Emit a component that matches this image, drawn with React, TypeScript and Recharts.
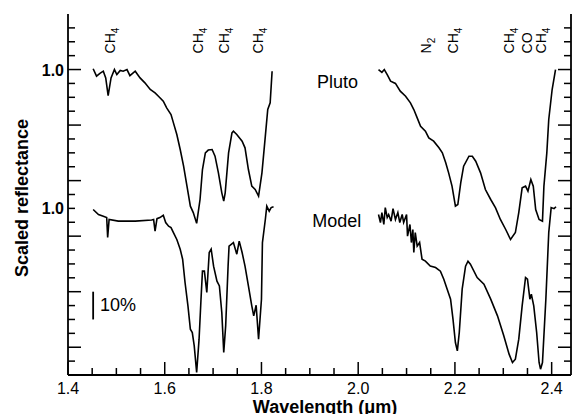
import React from "react";
import {
  LineChart,
  Line,
  XAxis,
  YAxis,
  ReferenceDot,
  ReferenceLine,
} from "recharts";

// [wavelength (um), scaled reflectance]
const plutoShort = [
  [1.452, 1.003], [1.459, 0.976], [1.466, 0.986], [1.473, 0.994], [1.478, 0.97],
  [1.483, 0.906], [1.489, 0.97], [1.496, 1.0], [1.501, 0.982], [1.508, 0.997],
  [1.514, 0.994], [1.522, 1.0], [1.528, 0.978], [1.539, 0.994], [1.549, 0.97],
  [1.559, 0.952], [1.57, 0.928], [1.58, 0.916], [1.587, 0.904], [1.597, 0.886],
  [1.604, 0.862], [1.613, 0.838], [1.618, 0.808], [1.625, 0.766], [1.632, 0.712],
  [1.639, 0.652], [1.646, 0.58], [1.653, 0.508], [1.659, 0.485], [1.666, 0.446],
  [1.673, 0.532], [1.678, 0.64], [1.684, 0.7], [1.69, 0.71], [1.698, 0.712],
  [1.704, 0.688], [1.711, 0.628], [1.718, 0.556], [1.722, 0.526], [1.725, 0.556],
  [1.732, 0.7], [1.739, 0.772], [1.742, 0.778], [1.749, 0.766], [1.76, 0.742],
  [1.766, 0.718], [1.773, 0.64], [1.78, 0.58], [1.787, 0.568], [1.794, 0.544],
  [1.801, 0.628], [1.808, 0.76], [1.813, 0.856], [1.818, 0.88], [1.822, 0.994],
];

const plutoLong = [
  [2.042, 1.0], [2.049, 0.99], [2.054, 1.0], [2.06, 0.982], [2.067, 0.958],
  [2.077, 0.95], [2.087, 0.922], [2.098, 0.904], [2.108, 0.88], [2.115, 0.856],
  [2.122, 0.826], [2.129, 0.796], [2.139, 0.778], [2.146, 0.754], [2.156, 0.742],
  [2.167, 0.718], [2.174, 0.7], [2.181, 0.664], [2.187, 0.628], [2.194, 0.58],
  [2.201, 0.508], [2.206, 0.514], [2.212, 0.592], [2.218, 0.652], [2.229, 0.688],
  [2.236, 0.688], [2.243, 0.67], [2.253, 0.628], [2.263, 0.568], [2.274, 0.532],
  [2.284, 0.502], [2.294, 0.46], [2.305, 0.424], [2.315, 0.388], [2.325, 0.413],
  [2.332, 0.485], [2.339, 0.574], [2.346, 0.58], [2.351, 0.562], [2.357, 0.604],
  [2.362, 0.58], [2.367, 0.496], [2.374, 0.46], [2.381, 0.454], [2.384, 0.58],
  [2.39, 0.7], [2.394, 0.82], [2.401, 0.928], [2.408, 1.0],
];

const modelShort = [
  [1.452, 0.996], [1.463, 0.978], [1.473, 0.972], [1.48, 0.967], [1.482, 0.895],
  [1.485, 0.96], [1.504, 0.954], [1.539, 0.954], [1.573, 0.958], [1.577, 0.96],
  [1.58, 0.918], [1.584, 0.963], [1.59, 0.967], [1.597, 0.975], [1.602, 0.949],
  [1.608, 0.936], [1.613, 0.931], [1.618, 0.913], [1.625, 0.888], [1.632, 0.853],
  [1.637, 0.817], [1.642, 0.733], [1.648, 0.649], [1.653, 0.565], [1.657, 0.553],
  [1.661, 0.505], [1.666, 0.409], [1.671, 0.529], [1.675, 0.673], [1.678, 0.774],
  [1.682, 0.774], [1.687, 0.697], [1.692, 0.841], [1.696, 0.853], [1.701, 0.792],
  [1.708, 0.738], [1.713, 0.721], [1.718, 0.625], [1.722, 0.481], [1.726, 0.577],
  [1.731, 0.792], [1.733, 0.864], [1.742, 0.877], [1.749, 0.835], [1.754, 0.882],
  [1.76, 0.841], [1.766, 0.792], [1.773, 0.721], [1.78, 0.649], [1.784, 0.613],
  [1.789, 0.651], [1.794, 0.529], [1.8, 0.673], [1.802, 0.877], [1.808, 0.96],
  [1.811, 1.008], [1.816, 0.99], [1.82, 1.003], [1.825, 1.006],
];

const modelLong = [
  [2.042, 0.978], [2.046, 0.949], [2.049, 0.985], [2.053, 0.942], [2.056, 1.003],
  [2.06, 0.967], [2.063, 0.978], [2.068, 0.954], [2.072, 0.999], [2.077, 0.96],
  [2.082, 0.985], [2.086, 0.949], [2.091, 0.978], [2.094, 0.949], [2.1, 0.978],
  [2.102, 0.9], [2.107, 0.942], [2.11, 0.877], [2.113, 0.924], [2.115, 0.841],
  [2.118, 0.913], [2.122, 0.864], [2.127, 0.877], [2.132, 0.817], [2.139, 0.81],
  [2.149, 0.792], [2.16, 0.787], [2.17, 0.774], [2.177, 0.745], [2.184, 0.709],
  [2.191, 0.673], [2.196, 0.601], [2.201, 0.517], [2.205, 0.487], [2.209, 0.553],
  [2.215, 0.709], [2.222, 0.792], [2.227, 0.81], [2.232, 0.799], [2.246, 0.751],
  [2.26, 0.727], [2.274, 0.673], [2.288, 0.613], [2.301, 0.541], [2.312, 0.475],
  [2.319, 0.445], [2.325, 0.457], [2.332, 0.529], [2.339, 0.649], [2.346, 0.751],
  [2.35, 0.745], [2.355, 0.673], [2.358, 0.691], [2.363, 0.649], [2.369, 0.553],
  [2.374, 0.445], [2.377, 0.421], [2.381, 0.445], [2.388, 0.673], [2.394, 0.913],
  [2.399, 1.003], [2.405, 0.999], [2.409, 1.006],
];

// model spectrum is drawn 0.5 below Pluto
const modelOffset = 0.5;

const species = [
  ["CH", "4", 1.487], ["CH", "4", 1.669], ["CH", "4", 1.723], ["CH", "4", 1.793],
  ["N", "2", 2.141], ["CH", "4", 2.197], ["CH", "4", 2.311], ["CO", "", 2.35],
  ["CH", "4", 2.379],
];

const xTicks = [
  1.4, 1.45, 1.5, 1.55, 1.6, 1.65, 1.7, 1.75, 1.8, 1.85, 1.9, 1.95, 2.0,
  2.05, 2.1, 2.15, 2.2, 2.25, 2.3, 2.35, 2.4,
];
const yTicks = [
  -0.05, 0, 0.05, 0.1, 0.15, 0.2, 0.25, 0.3, 0.35, 0.4, 0.45, 0.5, 0.55,
  0.6, 0.65, 0.7, 0.75, 0.8, 0.85, 0.9, 0.95, 1.0, 1.05, 1.1, 1.15,
];
const yLabelTicks = [1.0, 0.5];

const font = "'Liberation Sans', Arial, Helvetica, sans-serif";

const toRows = (pts: number[][], off = 0) =>
  pts.map(([w, r]) => ({ w, r: +(r - off).toFixed(3) }));

const isMajor = (v: number, step: number) =>
  Math.abs(v / step - Math.round(v / step)) < 1e-6;

const BottomTick = (p: any) => {
  const v = p.payload.value;
  const major = isMajor(v, 0.2);
  return (
    <g>
      <line x1={p.x} x2={p.x} y1={p.y} y2={p.y - (major ? 13 : 7)} stroke="#000" strokeWidth={1.5} />
      {major && (
        <text x={p.x} y={p.y + 19} textAnchor="middle" fontSize={16} fontFamily={font} fill="#000">
          {v.toFixed(1)}
        </text>
      )}
    </g>
  );
};

const TopTick = (p: any) => {
  const major = isMajor(p.payload.value, 0.2);
  return (
    <line x1={p.x} x2={p.x} y1={p.y} y2={p.y + (major ? 13 : 7)} stroke="#000" strokeWidth={1.5} />
  );
};

const LeftTick = (p: any) => {
  const v = p.payload.value;
  const major = isMajor(v, 0.2);
  const labeled = yLabelTicks.some((t) => Math.abs(t - v) < 1e-6);
  return (
    <g>
      <line x1={p.x} x2={p.x + (major ? 13 : 7)} y1={p.y} y2={p.y} stroke="#000" strokeWidth={1.5} />
      {labeled && (
        <text x={p.x - 4} y={p.y + 6} textAnchor="end" fontSize={16} fontWeight="bold" fontFamily={font} fill="#000">
          1.0
        </text>
      )}
    </g>
  );
};

const RightTick = (p: any) => {
  const major = isMajor(p.payload.value, 0.2);
  return (
    <line x1={p.x} x2={p.x - (major ? 13 : 7)} y1={p.y} y2={p.y} stroke="#000" strokeWidth={1.5} />
  );
};

const SpeciesLabel = (main: string, sub: string) => (p: any) => (
  <text
    transform={`translate(${p.cx + 5},${p.cy}) rotate(-90)`}
    fontSize={14}
    fontFamily={font}
    fill="#000"
  >
    {main}
    {sub && (
      <tspan dy={4} fontSize={10}>
        {sub}
      </tspan>
    )}
  </text>
);

const TextLabel = (txt: string, size: number) => (p: any) => (
  <text x={p.cx} y={p.cy} fontSize={size} fontFamily={font} fill="#000">
    {txt}
  </text>
);

export default function App() {
  const line = { xAxisId: "b", yAxisId: "l", dataKey: "r", type: "linear" as const, stroke: "#000", strokeWidth: 1.6, dot: false, isAnimationActive: false };
  return (
    <div style={{ position: "absolute", left: 0, top: 0, width: 572, height: 414, background: "#fff" }}>
      <LineChart width={572} height={414} margin={{ top: 14, right: 0, bottom: 0, left: 0 }}>
        <XAxis
          xAxisId="b"
          dataKey="w"
          type="number"
          domain={[1.4, 2.44]}
          allowDataOverflow
          ticks={xTicks}
          interval={0}
          tickSize={0}
          tickMargin={0}
          tick={BottomTick}
          height={39}
          axisLine={{ stroke: "#000", strokeWidth: 1.8 }}
        />
        <XAxis
          xAxisId="t"
          orientation="top"
          type="number"
          domain={[1.4, 2.44]}
          allowDataOverflow
          ticks={xTicks}
          interval={0}
          tickSize={0}
          tickMargin={0}
          tick={TopTick}
          height={0}
          axisLine={{ stroke: "#000", strokeWidth: 1.8 }}
        />
        <YAxis
          yAxisId="l"
          type="number"
          domain={[-0.1, 1.2]}
          allowDataOverflow
          ticks={yTicks}
          interval={0}
          tickSize={0}
          tickMargin={0}
          tick={LeftTick}
          width={68}
          axisLine={{ stroke: "#000", strokeWidth: 1.8 }}
        />
        <YAxis
          yAxisId="r"
          orientation="right"
          type="number"
          domain={[-0.1, 1.2]}
          allowDataOverflow
          ticks={yTicks}
          interval={0}
          tickSize={0}
          tickMargin={0}
          tick={RightTick}
          width={1}
          axisLine={{ stroke: "#000", strokeWidth: 1.8 }}
        />
        <Line {...line} data={toRows(plutoShort)} />
        <Line {...line} data={toRows(plutoLong)} />
        <Line {...line} data={toRows(modelShort, modelOffset)} />
        <Line {...line} data={toRows(modelLong, modelOffset)} />
        {species.map(([m, s, w], i) => (
          <ReferenceDot
            key={i}
            xAxisId="b"
            yAxisId="l"
            x={w as number}
            y={1.058}
            r={0}
            shape={SpeciesLabel(m as string, s as string)}
          />
        ))}
        <ReferenceDot xAxisId="b" yAxisId="l" x={1.915} y={0.935} r={0} shape={TextLabel("Pluto", 18)} />
        <ReferenceDot xAxisId="b" yAxisId="l" x={1.905} y={0.432} r={0} shape={TextLabel("Model", 18)} />
        <ReferenceDot xAxisId="b" yAxisId="l" x={1.466} y={0.129} r={0} shape={TextLabel("10%", 18)} />
        <ReferenceLine
          xAxisId="b"
          yAxisId="l"
          segment={[{ x: 1.452, y: 0.2 }, { x: 1.452, y: 0.1 }]}
          stroke="#000"
          strokeWidth={1.8}
        />
      </LineChart>
      <div
        style={{
          position: "absolute",
          left: 0,
          top: 0,
          width: 572,
          height: 414,
          pointerEvents: "none",
        }}
      >
        <svg width={572} height={414}>
          <text x={325} y={413} textAnchor="middle" fontSize={18} fontWeight="bold" fontFamily={font}>
            Wavelength (μm)
          </text>
          <text
            transform="translate(28,198) rotate(-90)"
            textAnchor="middle"
            fontSize={18}
            fontWeight="bold"
            fontFamily={font}
          >
            Scaled reflectance
          </text>
        </svg>
      </div>
    </div>
  );
}
